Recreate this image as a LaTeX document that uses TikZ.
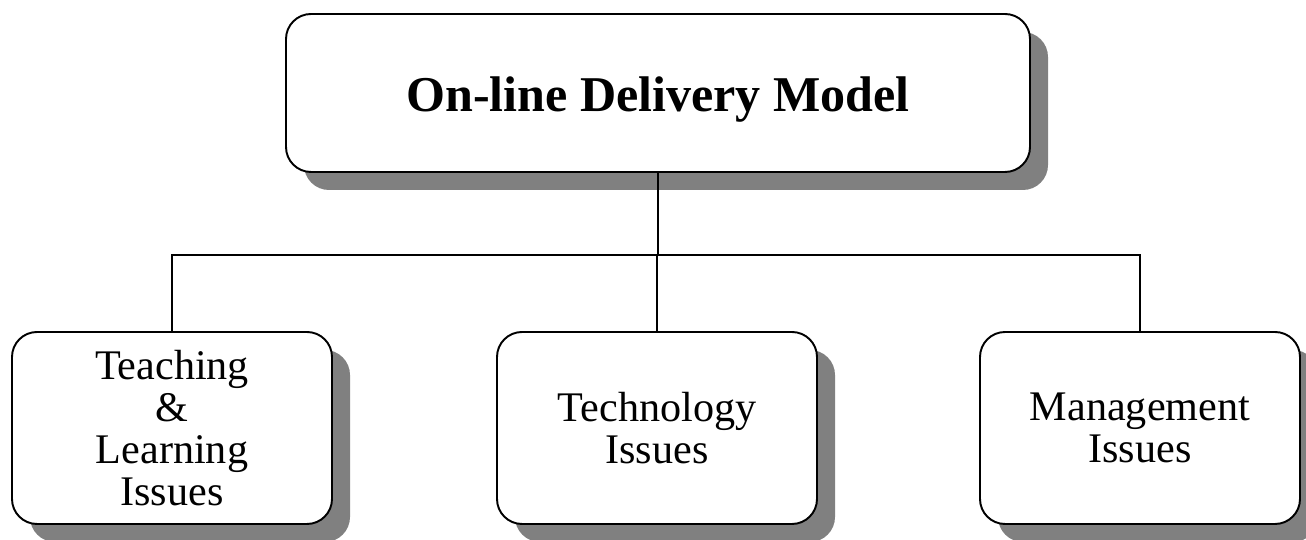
\documentclass[tikz,border=0pt]{standalone}
\usepackage{fontspec}
\setmainfont{Liberation Serif}
\usetikzlibrary{shadows}
\definecolor{shadowgray}{HTML}{808080}

\def\dx{.36cm}

\begin{document}
\begin{tikzpicture}[line width=1.1pt]
  \tikzset{issue/.style={draw,rounded corners=.5cm,fill=white,minimum width=6.4cm,minimum height=3.84cm,align=center,font=\fontsize{24}{24}\selectfont,
      drop shadow={shadow xshift=\dx,shadow yshift=-\dx,fill=shadowgray,opacity=1}}}

  \useasboundingbox (0,0) rectangle (26.12,10.8);

  \node[issue,minimum width=14.88cm,minimum height=3.16cm,text height=.76cm,text depth=0pt,font=\fontsize{28.5}{32}\selectfont\bfseries] at (13.16,8.94) (model) {On-line Delivery Model};
  \node[issue] at (3.44,2.24) (teaching) {Teaching\\\&\\Learning\\Issues};
  \node[issue] at (13.14,2.24) (technology) {Technology\\Issues};
  \node[issue] at (22.8,2.24) (management) {Management\\Issues};

  \coordinate (bar) at (0,5.7);
  \draw (model.south) -- (model.south |- bar);
  \draw (teaching.north) -- (teaching.north |- bar) -- (management.north |- bar) -- (management.north);
  \draw (technology.north) -- (technology.north |- bar);
\end{tikzpicture}
\end{document}
